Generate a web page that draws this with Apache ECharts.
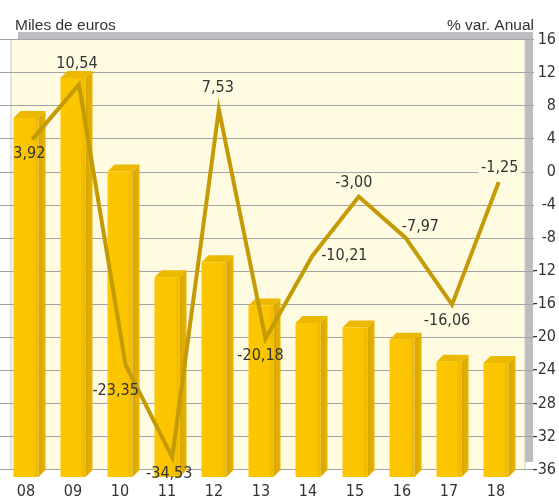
<!DOCTYPE html>
<html>
<head>
<meta charset="utf-8">
<script src="https://cdn.jsdelivr.net/npm/echarts@6/dist/echarts.min.js"></script>
<style>
  html, body { margin: 0; padding: 0; background: #fff; }
  #chart { width: 559px; height: 501px; }
</style>
</head>
<body>
<div id="chart"></div>
<script>
var years = ['08', '09', '10', '11', '12', '13', '14', '15', '16', '17', '18'];
// miles de euros (axis not labelled)
var importe = [1641, 1824, 1397, 913, 982, 784, 704, 683, 628, 527, 521];
// % var. anual
var variacion = [3.92, 10.54, -23.35, -34.53, 7.53, -20.18, -10.21, -3.00, -7.97, -16.06, -1.25];

// where each line label sits
var labelPlace = [
    ['bottom', [-3, 0]], ['top', [-2, -7]], ['bottom', [-10, 12]], ['bottom', [-3, 2]],
    ['top', [-1, -8]], ['bottom', [-5, 3]], ['right', [3, 0]], ['top', [-5, 0]],
    ['top', [15, 3]], ['bottom', [-5, 2]], ['top', [1, 0]]
];

var narrow = "'Liberation Sans Narrow', 'DejaVu Sans Condensed', 'Roboto Condensed', sans-serif";
var panelColor = '#FFFBE1';

var dom = document.getElementById('chart');
var myChart = echarts.init(dom);

function fmt(v) {
    return v.toFixed(2).replace('.', ',');
}

function renderBar(params, api) {
    var top = api.coord([api.value(0), api.value(1)]);
    var base = api.coord([api.value(0), 0]);
    var w = 25, dx = 7, dy = 7;
    var x0 = top[0] - w / 2, x1 = top[0] + w / 2;
    var y0 = top[1], y1 = base[1];
    return {
        type: 'group',
        children: [
            {
                type: 'polygon',
                shape: { points: [[x1, y0], [x1 + dx, y0 - dy], [x1 + dx, y1 - dy], [x1, y1]] },
                style: {
                    fill: new echarts.graphic.LinearGradient(0, 0, 1, 0, [
                        { offset: 0, color: '#D8A500' },
                        { offset: 1, color: '#E6B400' }
                    ])
                }
            },
            {
                type: 'polygon',
                shape: { points: [[x0, y0], [x0 + dx, y0 - dy], [x1 + dx, y0 - dy], [x1, y0]] },
                style: { fill: '#EDB800' }
            },
            {
                type: 'rect',
                shape: { x: x0, y: y0, width: w, height: y1 - y0 },
                style: {
                    fill: new echarts.graphic.LinearGradient(0, 0, 1, 0, [
                        { offset: 0, color: '#FCC700' },
                        { offset: 0.8, color: '#FAC400' },
                        { offset: 1, color: '#EDB700' }
                    ])
                }
            }
        ]
    };
}

var barData = years.map(function (y, i) { return [i, importe[i]]; });
var lineData = variacion.map(function (v, i) {
    var item = {
        value: v,
        label: { show: true, position: labelPlace[i][0], offset: labelPlace[i][1] }
    };
    if (i === variacion.length - 1) {
        item.label.backgroundColor = panelColor;
        item.label.padding = [0, 3];
    }
    return item;
});

var option = {
    animation: false,
    title: [
        {
            text: 'Miles de euros', left: 10, top: 13,
            textStyle: { fontFamily: 'Liberation Sans', fontSize: 15.5, fontWeight: 'normal', color: '#333' }
        },
        {
            text: '% var. Anual', right: 20, top: 13,
            textStyle: { fontFamily: 'Liberation Sans', fontSize: 15.5, fontWeight: 'normal', color: '#333' }
        }
    ],
    graphic: [
        {
            type: 'rect', z: -2, silent: true,
            shape: { x: 18, y: 32, width: 515, height: 430 },
            style: { fill: '#BDBDC1' }
        },
        {
            type: 'rect', z: -1, silent: true,
            shape: { x: 11, y: 39.5, width: 514, height: 430 },
            style: { fill: panelColor, stroke: '#CACACA', lineWidth: 1 }
        }
    ],
    grid: [
        { left: 2.5, right: 39.5, top: 39.5, bottom: 24 },
        { left: 9, right: 33, top: 39.5, bottom: 31.5 },
        { left: 0, right: 25, top: 39.5, bottom: 31.5 }
    ],
    xAxis: [
        {
            gridIndex: 0, type: 'category', data: years,
            axisLine: { show: false }, axisTick: { show: false },
            axisLabel: { margin: 7, fontSize: 16, color: '#333', fontFamily: narrow }
        },
        { gridIndex: 1, type: 'category', data: years, show: false },
        { gridIndex: 2, type: 'category', data: years, show: false }
    ],
    yAxis: [
        { gridIndex: 0, type: 'value', min: 0, max: 2000, show: false },
        {
            gridIndex: 1, type: 'value', position: 'right',
            min: -36, max: 16, interval: 4,
            axisLine: { show: false }, axisTick: { show: false }, splitLine: { show: false },
            axisLabel: { align: 'right', margin: 34, fontSize: 16, color: '#333', fontFamily: narrow }
        },
        {
            gridIndex: 2, type: 'value',
            min: -36, max: 16, interval: 4,
            axisLine: { show: false }, axisTick: { show: false }, axisLabel: { show: false },
            splitLine: { show: true, lineStyle: { color: '#A3A3A3', width: 1 } }
        }
    ],
    series: [
        {
            name: 'Miles de euros',
            type: 'custom',
            xAxisIndex: 0, yAxisIndex: 0,
            renderItem: renderBar,
            data: barData,
            z: 2
        },
        {
            name: '% var. Anual',
            type: 'line',
            xAxisIndex: 1, yAxisIndex: 1,
            data: lineData,
            symbol: 'circle',
            symbolSize: 2,
            showSymbol: true,
            showAllSymbol: true,
            itemStyle: { color: 'rgba(0,0,0,0)' },
            z: 3,
            lineStyle: { color: '#C49A05', width: 4, join: 'miter' },
            label: {
                show: true,
                fontFamily: narrow, fontSize: 16, color: '#333',
                formatter: function (p) { return fmt(p.value); }
            }
        }
    ]
};

if (option && typeof option === 'object') {
    myChart.setOption(option, true);
}
</script>
</body>
</html>
